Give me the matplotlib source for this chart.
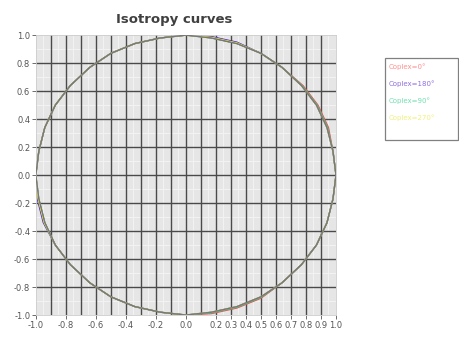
import numpy as np
import matplotlib
matplotlib.use("Agg")
import matplotlib.pyplot as plt
from matplotlib.patches import Rectangle

# curve vertices (every ~10 deg round the circle)
base_x = [1.00, 0.98, 0.94, 0.87, 0.77, 0.64, 0.50, 0.34, 0.17, 0.00, -0.17, -0.34, -0.50,
          -0.64, -0.77, -0.87, -0.94, -0.98, -1.00, -0.98, -0.94, -0.87, -0.77, -0.64, -0.50,
          -0.34, -0.17, 0.00, 0.17, 0.34, 0.50, 0.64, 0.77, 0.87, 0.94, 0.98, 1.00]
base_y = [0.00, 0.17, 0.34, 0.50, 0.64, 0.77, 0.87, 0.94, 0.98, 1.00, 0.98, 0.94, 0.87,
          0.77, 0.64, 0.50, 0.34, 0.17, 0.00, -0.17, -0.34, -0.50, -0.64, -0.77, -0.87,
          -0.94, -0.98, -1.00, -0.98, -0.94, -0.87, -0.77, -0.64, -0.50, -0.34, -0.17, 0.00]

x_red = [1.00, 0.98, 0.95, 0.88, 0.78, 0.64, 0.50, 0.34, 0.17, 0.00, -0.17, -0.34, -0.50,
         -0.64, -0.77, -0.87, -0.94, -0.98, -1.00, -0.98, -0.94, -0.87, -0.77, -0.64, -0.50,
         -0.34, -0.17, 0.00, 0.17, 0.34, 0.50, 0.64, 0.77, 0.87, 0.94, 0.98, 1.00]
y_red = [0.00, 0.17, 0.34, 0.50, 0.64, 0.77, 0.87, 0.94, 0.98, 1.00, 0.98, 0.94, 0.87,
         0.77, 0.64, 0.50, 0.34, 0.17, 0.00, -0.17, -0.34, -0.50, -0.64, -0.77, -0.87,
         -0.94, -0.98, -1.00, -0.99, -0.95, -0.88, -0.77, -0.64, -0.50, -0.34, -0.17, 0.00]
x_green = [1.00, 0.98, 0.945, 0.875, 0.775, 0.64, 0.50, 0.34, 0.17, 0.00, -0.17, -0.34, -0.50,
           -0.64, -0.77, -0.87, -0.94, -0.98, -1.00, -0.98, -0.94, -0.87, -0.77, -0.64, -0.50,
           -0.34, -0.17, 0.00, 0.17, 0.34, 0.50, 0.64, 0.77, 0.87, 0.94, 0.98, 1.00]
y_green = [0.00, 0.17, 0.34, 0.50, 0.64, 0.77, 0.87, 0.94, 0.98, 1.00, 0.98, 0.94, 0.87,
           0.77, 0.64, 0.50, 0.34, 0.17, 0.00, -0.17, -0.34, -0.50, -0.64, -0.77, -0.87,
           -0.94, -0.98, -1.00, -0.985, -0.945, -0.875, -0.77, -0.64, -0.50, -0.34, -0.17, 0.00]
x_blue = [1.00, 0.98, 0.94, 0.87, 0.77, 0.64, 0.50, 0.34, 0.17, 0.00, -0.17, -0.34, -0.50,
          -0.64, -0.77, -0.87, -0.94, -0.98, -1.00, -0.99, -0.95, -0.87, -0.77, -0.64, -0.50,
          -0.34, -0.17, 0.00, 0.17, 0.34, 0.50, 0.64, 0.77, 0.87, 0.94, 0.98, 1.00]
y_blue = [0.00, 0.17, 0.34, 0.50, 0.64, 0.77, 0.87, 0.95, 0.99, 1.00, 0.98, 0.94, 0.87,
          0.77, 0.64, 0.50, 0.34, 0.17, 0.00, -0.17, -0.34, -0.50, -0.64, -0.77, -0.87,
          -0.94, -0.98, -1.00, -0.98, -0.94, -0.87, -0.77, -0.64, -0.50, -0.34, -0.17, 0.00]
x_yellow = [1.00, 0.98, 0.94, 0.87, 0.77, 0.64, 0.50, 0.34, 0.17, 0.00, -0.17, -0.34, -0.50,
            -0.64, -0.77, -0.87, -0.94, -0.98, -1.00, -0.985, -0.945, -0.87, -0.77, -0.64, -0.50,
            -0.34, -0.17, 0.00, 0.17, 0.34, 0.50, 0.64, 0.77, 0.87, 0.94, 0.98, 1.00]
y_yellow = [0.00, 0.17, 0.34, 0.50, 0.64, 0.77, 0.87, 0.945, 0.985, 1.00, 0.98, 0.94, 0.87,
            0.77, 0.64, 0.50, 0.34, 0.17, 0.00, -0.17, -0.34, -0.50, -0.64, -0.77, -0.87,
            -0.94, -0.98, -1.00, -0.98, -0.94, -0.87, -0.77, -0.64, -0.50, -0.34, -0.17, 0.00]

labels = ["Coplex=0°", "Coplex=180°", "Coplex=90°", "Coplex=270°"]
colors = ["#ff4040", "#4020d0", "#20e0a0", "#f0f030"]
text_colors = ["#ff9090", "#9070e0", "#70e0b0", "#f0f080"]

xticks = [-1.0, -0.8, -0.6, -0.4, -0.2, 0.0, 0.2, 0.3, 0.4, 0.5, 0.6, 0.7, 0.8, 0.9, 1.0]
yticks = [-1.0, -0.8, -0.6, -0.4, -0.2, 0.0, 0.2, 0.4, 0.6, 0.8, 1.0]

fig = plt.figure(figsize=(4.59, 3.38), dpi=100)
ax = fig.add_axes([0.078, 0.068, 0.654, 0.828])
ax.set_facecolor("#e6e6e6")

# faint minor grid
for v in np.arange(-0.95, 1.0, 0.1):
    ax.axvline(v, color="#f2f2f2", lw=0.8, zorder=0)
for v in np.arange(-0.9, 1.0, 0.2):
    ax.axhline(v, color="#f2f2f2", lw=0.8, zorder=0)
# dark grid
for v in np.arange(-0.9, 1.0, 0.1):
    ax.axvline(v, color="#4a4a4a", lw=1.0, zorder=1)
for v in np.arange(-0.8, 1.0, 0.2):
    ax.axhline(v, color="#4a4a4a", lw=1.0, zorder=1)

ax.plot(x_red, y_red, color=colors[0], lw=0.9, zorder=2)
ax.plot(x_green, y_green, color=colors[2], lw=0.9, zorder=2)
ax.plot(x_blue, y_blue, color=colors[1], lw=0.9, zorder=2)
ax.plot(x_yellow, y_yellow, color=colors[3], lw=0.9, zorder=2)
ax.plot(base_x, base_y, color="#787878", lw=1.0, zorder=3)

ax.set_xlim(-1.0, 1.0)
ax.set_ylim(-1.0, 1.0)
ax.set_xticks(xticks)
ax.set_xticklabels(["%.1f" % t for t in xticks], fontsize=6, color="#555555")
ax.set_yticks(yticks)
ax.set_yticklabels(["%.1f" % t for t in yticks], fontsize=6, color="#555555")
ax.tick_params(length=3, width=0.6, color="#555555", pad=1)
for s in ax.spines.values():
    s.set_color("#cccccc")
    s.set_linewidth(0.6)

ax.set_title("Isotropy curves", fontsize=9.5, fontweight="bold", color="#404040", pad=9, x=0.46)

# legend box drawn by hand
W, H = 459.0, 338.0
fig.patches.append(Rectangle((385 / W, 1 - 140 / H), 73 / W, 82 / H, transform=fig.transFigure,
                             facecolor="white", edgecolor="#808080", lw=0.9))
for i, (lab, c) in enumerate(zip(labels, text_colors)):
    fig.text(389 / W, 1 - (67 + 17 * i) / H, lab, fontsize=5, color=c, va="center", ha="left")

fig.savefig("out.png", dpi=100)
